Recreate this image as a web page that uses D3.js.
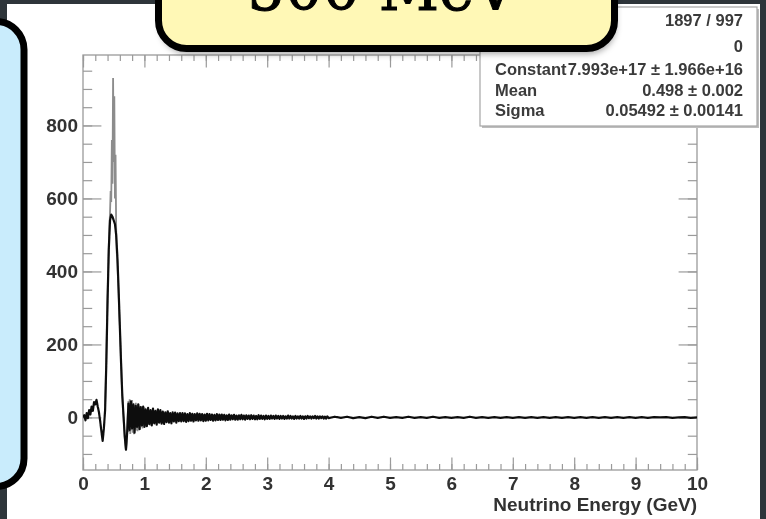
<!DOCTYPE html>
<html>
<head>
<meta charset="utf-8">
<script src="https://cdn.jsdelivr.net/npm/d3@7"></script>
<style>
  html, body { margin: 0; padding: 0; background: #2e353a; overflow: hidden; }
  svg { display: block; }
</style>
</head>
<body>
<script>
// histogram counts, 0.00 .. 4.00 GeV in 0.02 GeV steps
var mainStart = 0;
var mainStep = 0.02;
var mainCounts = [
    0, 6, -8, 12, -2, 20, 8, 30, 18, 42,
    36, 48, 30, 14, -10, -38, -64, -30, 20, 150,
    320, 460, 540, 556, 550, 540, 530, 500, 440, 350,
    250, 150, 60, 4, -52, -88, -40,
    38, -34, 44, -30, 36, -42, 32, -26, 36, -32, 28, -22, 30, -26,
    22, -24, 26, -18, 20, -22, 24, -16, 18, -20,
    22, -14, 20, -17, 16, -18, 14, -13, 17, -14,
    12, -16, 14, -11, 13, -14, 11, -10, 12, -11,
    12, -10, 11, -12, 9, -10, 12, -9, 10, -11,
    9, -8, 11, -9, 10, -8, 9, -10, 8, -9,
    10, -8, 9, -7, 8, -9, 7, -8, 9, -7,
    8, -7, 8, -6, 7, -8, 6, -7, 8, -6,
    6, -5, 7, -6, 5, -6, 6, -5, 7, -5,
    5, -6, 6, -4, 5, -5, 6, -4, 5, -5,
    4, -5, 6, -4, 5, -4, 4, -5, 5, -4,
    4, -4, 5, -3, 4, -4, 5, -3, 4, -4,
    4, -3, 4, -4, 3, -3, 5, -3, 4, -3,
    3, -4, 4, -3, 3, -3, 4, -3, 3, -4,
    3, -3, 4, -2, 3, -3, 3, -2, 4, -3,
    3, -3, 3, -2, 3, -3, 2, -3, 3, -2
];

// flat tail, 4.1 .. 10.0 GeV in 0.1 GeV steps
var tailStart = 4.1;
var tailStep = 0.1;
var tailCounts = [
    2, -1, 2, -2, 1, -2, 2, -1, 2, -1,
    1, -1, 2, -1, 1, -1, 2, -1, 1, -1,
    1, -1, 2, -1, 1, -1, 1, -1, 1, -1,
    1, -1, 1, -1, 1, -1, 1, -1, 1, -1,
    1, -1, 1, -1, 1, -1, 1, -1, 1, -1,
    1, -1, 1, 0, 1, -1, 0, 1, -1, 0
];

// grey overlay around the peak, 0.36 .. 1.20 GeV in 0.01 GeV steps
var greyStart = 0.36;
var greyStep = 0.01;
var greyCounts = [
    30, 90, 170, 250, 330, 400, 470, 520, 560, 620,
    590, 760, 640, 930, 700, 880, 600, 720, 520, 450,
    430, 380, 340, 290, 250, 200, 150, 100, 60, 30,
    0, -30, -55, -75, -90, -70, -30, 10, 45, -40,
    50, -45, 40, -35, 48, -42, 38, -46, 34, -30,
    40, -36, 30, -38, 36, -28, 32, -34, 28, -26,
    30, -30, 24, -22, 28, -24, 22, -26, 20, -18,
    24, -20, 18, -22, 20, -16, 18, -18, 14, -16,
    16, -12, 14, -14, 10
];

var xTicks = [0, 1, 2, 3, 4, 5, 6, 7, 8, 9, 10];
var yTicks = [0, 200, 400, 600, 800];
var xDomain = [0, 10];
var yDomain = [-144, 993];

var statsLabels = ['', '', 'Constant', 'Mean', 'Sigma'];
var statsValues = ['1897 / 997', '0', '7.993e+17 \u00b1 1.966e+16', '0.498 \u00b1 0.002', '0.05492 \u00b1 0.00141'];

var xTitle = 'Neutrino Energy (GeV)';
var boxTitle = '500 MeV';

(function() {
    'use strict';
    var width = 766, height = 519;
    var frame = { left: 83, right: 697, top: 55, bottom: 470 };
    var font = '"Liberation Sans", Arial, Helvetica, sans-serif';

    var svg = d3.select('body').append('svg')
        .attr('width', width)
        .attr('height', height);

    var defs = svg.append('defs');
    defs.append('clipPath').attr('id', 'plotclip')
        .append('rect')
        .attr('x', frame.left).attr('y', frame.top)
        .attr('width', frame.right - frame.left)
        .attr('height', frame.bottom - frame.top);
    defs.append('filter').attr('id', 'soft')
        .append('feGaussianBlur').attr('stdDeviation', 0.5);
    defs.append('filter').attr('id', 'shadow')
        .attr('x', '-10%').attr('y', '-10%').attr('width', '120%').attr('height', '130%')
        .append('feGaussianBlur').attr('stdDeviation', 3);

    // slide background and white panel
    svg.append('rect')
        .attr('width', width).attr('height', height)
        .style('fill', '#2e353a');
    svg.append('rect')
        .attr('x', 7).attr('y', 4)
        .attr('width', 753).attr('height', height)
        .style('fill', '#ffffff');

    var x = d3.scaleLinear().domain(xDomain).range([frame.left, frame.right]);
    var y = d3.scaleLinear().domain(yDomain).range([frame.bottom, frame.top]);

    var chart = svg.append('g').attr('filter', 'url(#soft)');

    var xMinor = d3.range(0, 10.0001, 0.2);
    var yMinor = d3.range(-100, 951, 50);
    var tickColor = '#9a9a9a';

    function styleAxis(g) {
        g.select('.domain').remove();
        g.selectAll('line').style('stroke', tickColor).style('stroke-width', 1.2);
        g.selectAll('text')
            .style('font-family', font)
            .style('font-size', '19px')
            .style('font-weight', 'bold')
            .style('fill', '#333');
    }

    chart.append('g')
        .attr('transform', 'translate(0,' + frame.bottom + ')')
        .call(d3.axisBottom(x).tickValues(xMinor).tickSize(-6).tickFormat(''))
        .call(styleAxis);
    chart.append('g')
        .attr('transform', 'translate(0,' + frame.bottom + ')')
        .call(d3.axisBottom(x).tickValues(xTicks).tickSize(-12.5).tickPadding(6.5).tickFormat(d3.format('d')))
        .call(styleAxis);
    chart.append('g')
        .attr('transform', 'translate(0,' + frame.top + ')')
        .call(d3.axisTop(x).tickValues(xMinor).tickSize(-6).tickFormat(''))
        .call(styleAxis);
    chart.append('g')
        .attr('transform', 'translate(0,' + frame.top + ')')
        .call(d3.axisTop(x).tickValues(xTicks).tickSize(-12.5).tickFormat(''))
        .call(styleAxis);
    chart.append('g')
        .attr('transform', 'translate(' + frame.left + ',0)')
        .call(d3.axisLeft(y).tickValues(yMinor).tickSize(-9.2).tickFormat(''))
        .call(styleAxis);
    chart.append('g')
        .attr('transform', 'translate(' + frame.left + ',0)')
        .call(d3.axisLeft(y).tickValues(yTicks).tickSize(-18.4).tickPadding(5).tickFormat(d3.format('d')))
        .call(styleAxis);
    chart.append('g')
        .attr('transform', 'translate(' + frame.right + ',0)')
        .call(d3.axisRight(y).tickValues(yMinor).tickSize(-9.2).tickFormat(''))
        .call(styleAxis);
    chart.append('g')
        .attr('transform', 'translate(' + frame.right + ',0)')
        .call(d3.axisRight(y).tickValues(yTicks).tickSize(-18.4).tickFormat(''))
        .call(styleAxis);

    chart.append('rect')
        .attr('x', frame.left).attr('y', frame.top)
        .attr('width', frame.right - frame.left)
        .attr('height', frame.bottom - frame.top)
        .style('fill', 'none')
        .style('stroke', tickColor)
        .style('stroke-width', 1.3);

    var line = d3.line()
        .x(function(d) { return x(d[0]); })
        .y(function(d) { return y(d[1]); });

    var greyPoints = greyCounts.map(function(v, i) { return [greyStart + i * greyStep, v]; });
    var mainPoints = mainCounts.map(function(v, i) { return [mainStart + i * mainStep, v]; })
        .concat(tailCounts.map(function(v, i) { return [tailStart + i * tailStep, v]; }));

    var plot = chart.append('g').attr('clip-path', 'url(#plotclip)');
    plot.append('path')
        .datum(greyPoints)
        .attr('d', line)
        .style('fill', 'none')
        .style('stroke', '#8c8c8c')
        .style('stroke-width', 1.8);
    plot.append('path')
        .datum(mainPoints)
        .attr('d', line)
        .style('fill', 'none')
        .style('stroke', '#111')
        .style('stroke-width', 2.2)
        .style('stroke-linejoin', 'round');

    chart.append('text')
        .attr('x', frame.right)
        .attr('y', 511)
        .attr('text-anchor', 'end')
        .style('font-family', font)
        .style('font-size', '19px')
        .style('font-weight', 'bold')
        .style('fill', '#333')
        .text(xTitle);

    // stats box
    var stats = chart.append('g');
    stats.append('rect')
        .attr('x', 482).attr('y', 9)
        .attr('width', 277).attr('height', 119)
        .style('fill', '#bdbdbd');
    stats.append('rect')
        .attr('x', 480).attr('y', 7)
        .attr('width', 277).attr('height', 119)
        .style('fill', '#fff')
        .style('stroke', '#a5a5a5')
        .style('stroke-width', 1.2);
    var rowY = [20, 46, 69, 90, 110];
    stats.selectAll('text.lab')
        .data(statsLabels)
        .enter().append('text')
        .attr('class', 'lab')
        .attr('x', 495)
        .attr('y', function(d, i) { return rowY[i]; })
        .attr('dy', '0.36em')
        .style('font-family', font)
        .style('font-size', '16.5px')
        .style('font-weight', 'bold')
        .style('fill', '#3a3a3a')
        .text(function(d) { return d; });
    stats.selectAll('text.val')
        .data(statsValues)
        .enter().append('text')
        .attr('class', 'val')
        .attr('x', 743)
        .attr('y', function(d, i) { return rowY[i]; })
        .attr('dy', '0.36em')
        .attr('text-anchor', 'end')
        .style('font-family', font)
        .style('font-size', '16.5px')
        .style('font-weight', 'bold')
        .style('fill', '#3a3a3a')
        .text(function(d) { return d; });

    // slide callouts
    svg.append('rect')
        .attr('x', 160).attr('y', -58)
        .attr('width', 456).attr('height', 112)
        .attr('rx', 28)
        .style('fill', 'rgba(0,0,0,0.35)')
        .attr('filter', 'url(#shadow)');
    svg.append('rect')
        .attr('x', 158.5).attr('y', -60)
        .attr('width', 456).attr('height', 108.5)
        .attr('rx', 28)
        .style('fill', '#fff8b6')
        .style('stroke', '#000')
        .style('stroke-width', 7);
    svg.append('text')
        .attr('x', 382)
        .attr('y', 10)
        .attr('text-anchor', 'middle')
        .style('font-family', '"DejaVu Serif", "Liberation Serif", serif')
        .style('font-size', '59px')
        .style('fill', '#000')
        .style('stroke', '#000')
        .style('stroke-width', 1)
        .text(boxTitle);

    svg.append('rect')
        .attr('x', -60).attr('y', 21.5)
        .attr('width', 84).attr('height', 465)
        .attr('rx', 28)
        .style('fill', '#c9ecfc')
        .style('stroke', '#000')
        .style('stroke-width', 7);
}());
</script>
</body>
</html>
